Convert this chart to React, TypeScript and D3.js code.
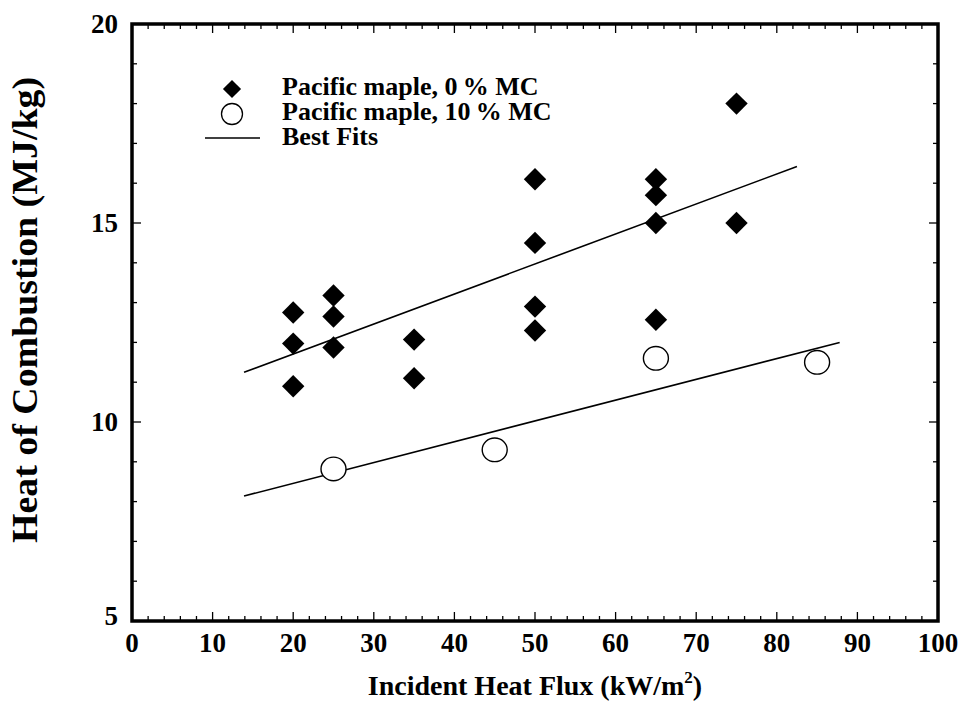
import * as d3 from 'd3'
import { useEffect, useRef } from 'react'

// Pacific maple, 0% MC
const dryFlux = [20, 20, 20, 25, 25, 25, 35, 35, 50, 50, 50, 50, 65, 65, 65, 65, 75, 75]
const dryHeat = [12.75, 11.97, 10.9, 13.18, 12.65, 11.87, 12.07, 11.1, 16.1, 14.5, 12.9, 12.3, 16.1, 15.7, 15.0, 12.57, 18.0, 15.0]

// Pacific maple, 10% MC
const wetFlux = [25, 45, 65, 85]
const wetHeat = [8.82, 9.3, 11.6, 11.5]

// best fit end points
const dryFitX = [13.9, 82.5]
const dryFitY = [11.25, 16.42]
const wetFitX = [13.9, 87.8]
const wetFitY = [8.14, 12.0]

const xTicks = [0, 10, 20, 30, 40, 50, 60, 70, 80, 90, 100]
const yTicks = [5, 10, 15, 20]

const legendLabels = ['Pacific maple, 0\u2009% MC', 'Pacific maple, 10\u2009% MC', 'Best Fits']

export default function App() {
  const ref = useRef<SVGSVGElement>(null)

  useEffect(() => {
    const svg = d3.select(ref.current)
    svg.selectAll('*').remove()
    const margin = { top: 24, right: 28, bottom: 81, left: 132 }
    const width = 966
    const height = 702
    const font = '"Liberation Serif", "Times New Roman", serif'

    const x = d3.scaleLinear().domain([0, 100]).range([margin.left, width - margin.right])
    const y = d3.scaleLinear().domain([5, 20]).range([height - margin.bottom, margin.top])

    const g = svg.append('g')

    // ticks, pointing inward on all four sides
    const xMinor = d3.range(0, 101, 2)
    const yMinor = d3.range(5, 21, 1)
    const tickLen = (major: boolean) => (major ? 9 : 5)

    xMinor.forEach((v) => {
      const major = v % 10 === 0
      g.append('line').attr('x1', x(v)).attr('x2', x(v))
        .attr('y1', y(5)).attr('y2', y(5) - tickLen(major))
        .attr('stroke', '#000').attr('stroke-width', 1.3)
      g.append('line').attr('x1', x(v)).attr('x2', x(v))
        .attr('y1', y(20)).attr('y2', y(20) + tickLen(major))
        .attr('stroke', '#000').attr('stroke-width', 1.3)
    })
    yMinor.forEach((v) => {
      const major = v % 5 === 0
      g.append('line').attr('y1', y(v)).attr('y2', y(v))
        .attr('x1', x(0)).attr('x2', x(0) + tickLen(major))
        .attr('stroke', '#000').attr('stroke-width', 1.3)
      g.append('line').attr('y1', y(v)).attr('y2', y(v))
        .attr('x1', x(100)).attr('x2', x(100) - tickLen(major))
        .attr('stroke', '#000').attr('stroke-width', 1.3)
    })

    // frame
    g.append('rect')
      .attr('x', x(0)).attr('y', y(20))
      .attr('width', x(100) - x(0)).attr('height', y(5) - y(20))
      .attr('fill', 'none').attr('stroke', '#000').attr('stroke-width', 3.5)

    // tick labels
    g.selectAll('.xl').data(xTicks).join('text')
      .attr('x', (d) => x(d)).attr('y', y(5) + 31)
      .attr('text-anchor', 'middle')
      .attr('font-family', font).attr('font-weight', 'bold').attr('font-size', 27)
      .text((d) => d)
    g.selectAll('.yl').data(yTicks).join('text')
      .attr('x', x(0) - 14).attr('y', (d) => y(d) + (d === 5 ? 4 : 9))
      .attr('text-anchor', 'end')
      .attr('font-family', font).attr('font-weight', 'bold').attr('font-size', 27)
      .text((d) => d)

    // axis titles
    const xt = g.append('text')
      .attr('x', (x(0) + x(100)) / 2).attr('y', 695)
      .attr('text-anchor', 'middle')
      .attr('font-family', font).attr('font-weight', 'bold').attr('font-size', 28)
    xt.append('tspan').text('Incident Heat Flux (kW/m')
    xt.append('tspan').attr('font-size', 17).attr('dy', -12).text('2')
    xt.append('tspan').attr('dy', 12).text(')')

    g.append('text')
      .attr('transform', 'translate(37,310) rotate(-90)')
      .attr('text-anchor', 'middle')
      .attr('font-family', font).attr('font-weight', 'bold').attr('font-size', 35)
      .attr('textLength', 466).attr('lengthAdjust', 'spacingAndGlyphs')
      .text('Heat of Combustion (MJ/kg)')

    // fit lines
    const line = d3.line<[number, number]>().x((d) => x(d[0])).y((d) => y(d[1]))
    ;[[dryFitX, dryFitY], [wetFitX, wetFitY]].forEach(([fx, fy]) => {
      g.append('path')
        .attr('d', line(fx.map((v, i) => [v, fy[i]] as [number, number])))
        .attr('fill', 'none').attr('stroke', '#000').attr('stroke-width', 1.6)
    })

    // points
    const diamond = d3.symbol().type(d3.symbolDiamond2).size(320)
    g.selectAll('.dry').data(dryFlux).join('path')
      .attr('transform', (d, i) => `translate(${x(d)},${y(dryHeat[i])})`)
      .attr('d', diamond()).attr('fill', '#000')
    g.selectAll('.wet').data(wetFlux).join('ellipse')
      .attr('cx', (d) => x(d)).attr('cy', (d, i) => y(wetHeat[i]))
      .attr('rx', 12.5).attr('ry', 11.8)
      .attr('fill', '#fff').attr('stroke', '#000').attr('stroke-width', 1.4)

    // legend
    const lg = g.append('g')
    lg.append('path').attr('transform', 'translate(232,89)')
      .attr('d', d3.symbol().type(d3.symbolDiamond2).size(210)()).attr('fill', '#000')
    lg.append('circle').attr('cx', 232).attr('cy', 114).attr('r', 10.5)
      .attr('fill', '#fff').attr('stroke', '#000').attr('stroke-width', 1.3)
    lg.append('line').attr('x1', 205).attr('x2', 260).attr('y1', 138).attr('y2', 138)
      .attr('stroke', '#000').attr('stroke-width', 1.4)
    lg.selectAll('.lt').data(legendLabels).join('text')
      .attr('x', 282).attr('y', (d, i) => 95 + i * 25)
      .attr('font-family', font).attr('font-weight', 'bold').attr('font-size', 26)
      .text((d) => d)
  }, [])

  return (
    <svg ref={ref} width={966} height={702}
      style={{ position: 'absolute', left: 0, top: 0, background: '#fff' }} />
  )
}
